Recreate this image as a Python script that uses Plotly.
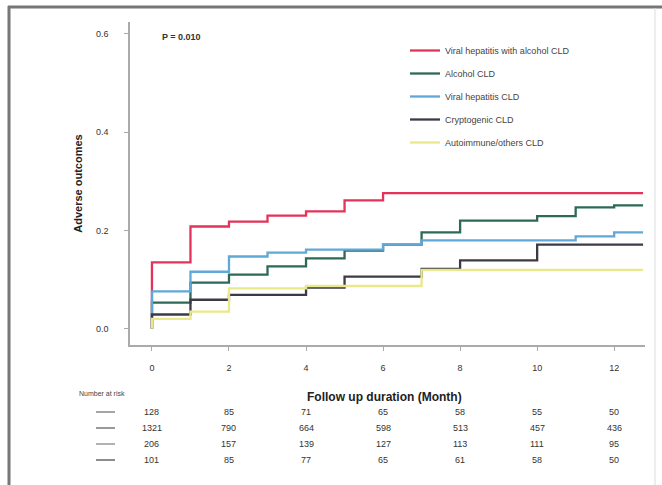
import plotly.graph_objects as go

# ---------------- data ----------------
months = [0, 0, 1, 2, 3, 4, 5, 6, 7, 8, 9, 10, 11, 12, 12.75]

series_names = [
    "Viral hepatitis with alcohol CLD",
    "Alcohol CLD",
    "Viral hepatitis CLD",
    "Cryptogenic CLD",
    "Autoimmune/others CLD",
]
red_vals = [0, 0.135, 0.208, 0.218, 0.230, 0.239, 0.261, 0.276, 0.276, 0.276, 0.276, 0.276, 0.276, 0.276, 0.276]
green_vals = [0, 0.053, 0.094, 0.110, 0.127, 0.143, 0.159, 0.171, 0.196, 0.220, 0.220, 0.229, 0.247, 0.251, 0.251]
blue_vals = [0, 0.076, 0.116, 0.147, 0.155, 0.161, 0.161, 0.171, 0.180, 0.180, 0.180, 0.180, 0.188, 0.196, 0.196]
crypto_vals = [0, 0.029, 0.059, 0.069, 0.069, 0.084, 0.106, 0.106, 0.122, 0.139, 0.139, 0.171, 0.171, 0.171, 0.171]
yellow_vals = [0, 0.020, 0.035, 0.082, 0.082, 0.087, 0.087, 0.087, 0.120, 0.120, 0.120, 0.120, 0.120, 0.120, 0.120]

x_ticks = [0, 2, 4, 6, 8, 10, 12]
y_ticks = [0.0, 0.2, 0.4, 0.6]
y_tick_labels = ["0.0", "0.2", "0.4", "0.6"]

risk_times = [0, 2, 4, 6, 8, 10, 12]
risk_row1 = [128, 85, 71, 65, 58, 55, 50]
risk_row2 = [1321, 790, 664, 598, 513, 457, 436]
risk_row3 = [206, 157, 139, 127, 113, 111, 95]
risk_row4 = [101, 85, 77, 65, 61, 58, 50]

p_text = "P = 0.010"

# ---------------- styles ----------------
colors = ["#e5325a", "#2d6a55", "#5fa8d8", "#3b3b48", "#e9e98c"]
font_family = "Liberation Sans, Arial, sans-serif"

fig = go.Figure()
all_vals = [red_vals, green_vals, blue_vals, crypto_vals, yellow_vals]
for i in range(5):
    fig.add_trace(go.Scatter(
        x=months, y=all_vals[i], mode="lines", name=series_names[i],
        line=dict(color=colors[i], width=2.3, shape="hv"),
        legendgroup=f"g{i}", legendrank=i + 1,
    ))

# px -> paper helpers
L, R, T, B = 130, 645, 22, 345
W, H = 662, 485
def px_x(px):
    return (px - L) / (R - L)
def px_y(py):
    return (B - py) / (B - T)

fig.update_layout(
    width=W, height=H,
    margin=dict(l=L, r=W - R, t=T, b=H - B),
    paper_bgcolor="white", plot_bgcolor="white",
    font=dict(family=font_family, size=9, color="#333"),
    showlegend=True,
    legend=dict(
        x=px_x(405), y=px_y(36), xanchor="left", yanchor="top",
        bgcolor="rgba(255,255,255,0)", font=dict(size=9, color="#444"),
        traceorder="grouped", tracegroupgap=4, itemwidth=30,
    ),
    xaxis=dict(
        range=[-0.57, 12.8], tickvals=x_ticks, ticktext=[str(t) for t in x_ticks],
        showgrid=False, zeroline=False, showline=True, linecolor="#aaaaaa", linewidth=1.5,
        ticks="outside", ticklen=4, tickcolor="#aaaaaa",
        tickfont=dict(size=9, color="#333"), ticklabelstandoff=9,
    ),
    yaxis=dict(
        range=[-0.033, 0.624], tickvals=y_ticks, ticktext=y_tick_labels,
        showgrid=False, zeroline=False, showline=True, linecolor="#aaaaaa", linewidth=1.5,
        ticks="outside", ticklen=4, tickcolor="#aaaaaa",
        tickfont=dict(size=9, color="#333"), ticklabelstandoff=14,
        title=dict(text="<b>Adverse outcomes</b>", font=dict(size=11, color="#222"), standoff=11),
    ),
)

ann = []
ann.append(dict(x=px_x(160), y=px_y(37), xref="paper", yref="paper", text=f"<b>{p_text}</b>",
                showarrow=False, xanchor="left", yanchor="middle", font=dict(size=9, color="#333")))
ann.append(dict(x=px_x(384), y=px_y(397), xref="paper", yref="paper",
                text="<b>Follow up duration (Month)</b>", showarrow=False,
                xanchor="center", yanchor="middle", font=dict(size=12, color="#222")))
ann.append(dict(x=px_x(77), y=px_y(393), xref="paper", yref="paper", text="Number at risk",
                showarrow=False, xanchor="left", yanchor="middle", font=dict(size=7, color="#444")))

rows = [risk_row1, risk_row2, risk_row3, risk_row4]
row_y = [412, 428, 444, 460]
row_line_colors = ["#888888", "#777777", "#999999", "#666666"]
shapes = []
for r, vals in enumerate(rows):
    for t, v in zip(risk_times, vals):
        ann.append(dict(x=t, y=px_y(row_y[r]), xref="x", yref="paper", text=str(v),
                        showarrow=False, xanchor="center", yanchor="middle",
                        font=dict(size=9, color="#333")))
    shapes.append(dict(type="line", xref="paper", yref="paper",
                       x0=px_x(96), x1=px_x(115), y0=px_y(row_y[r]), y1=px_y(row_y[r]),
                       line=dict(color=row_line_colors[r], width=1.5)))

# frame of the screenshot
shapes.append(dict(type="line", xref="paper", yref="paper", x0=px_x(8), x1=px_x(662),
                   y0=px_y(7), y1=px_y(7), line=dict(color="#777777", width=3)))
shapes.append(dict(type="line", xref="paper", yref="paper", x0=px_x(9), x1=px_x(9),
                   y0=px_y(6), y1=px_y(485), line=dict(color="#777777", width=3)))
shapes.append(dict(type="line", xref="paper", yref="paper", x0=px_x(655), x1=px_x(655),
                   y0=px_y(8), y1=px_y(485), line=dict(color="#dddddd", width=1)))

fig.update_layout(annotations=ann, shapes=shapes)
fig.write_html("out.html", config={"displayModeBar": False},
               post_script="document.body.style.margin='0';document.body.style.overflow='hidden';")
